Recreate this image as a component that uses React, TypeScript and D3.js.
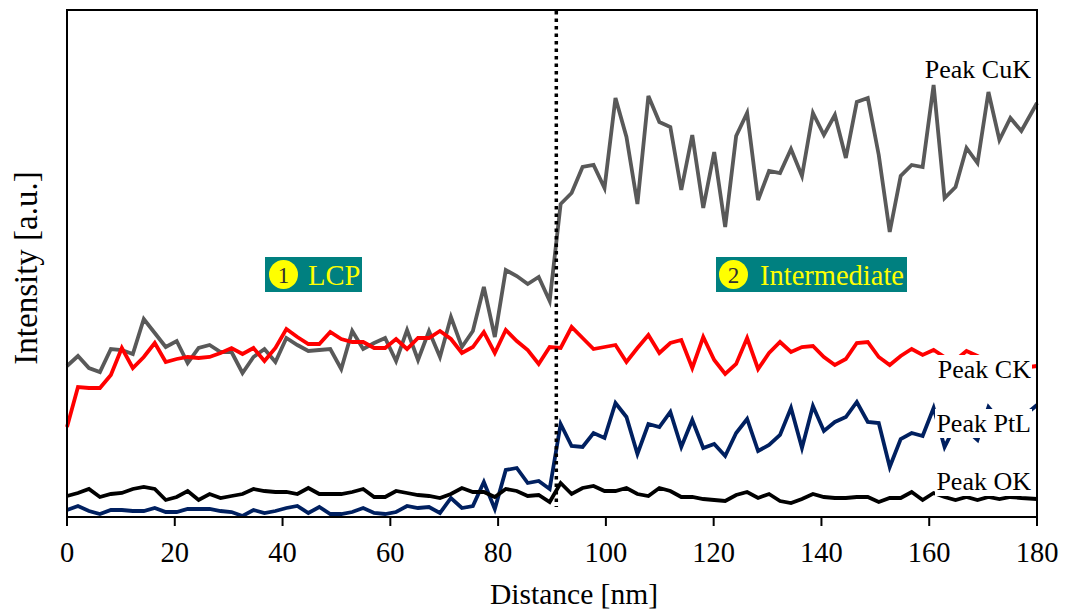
import React from "react";
import * as d3 from "d3";

// Line-scan sampling grid (nm) and the four EDS peak intensity profiles.
const STEP_NM = 2.0356;
const distance: number[] = [...d3.range(88).map((i) => i * STEP_NM), 180];

const peakCuK: number[] = [
  151, 161, 149, 145, 168, 167, 163, 198, 184, 170, 176, 154, 169, 172, 165, 165, 144, 160, 168, 155,
  179, 172, 166, 167, 168, 148, 186, 168, 174, 179, 156, 187, 157, 186, 160, 200, 170, 186, 230, 180,
  247, 241, 233, 240, 216, 313, 324, 350, 352, 329, 419, 380, 313, 421, 395, 390, 327, 382, 309, 365,
  290, 381, 404, 317, 346, 344, 368, 341, 404, 382, 402, 359, 415, 419, 362, 285, 341, 352, 350, 432,
  319, 330, 369, 354, 425, 377, 399, 386, 414,
];

const peakCK: number[] = [
  90, 130, 129, 129, 142, 169, 149, 160, 174, 155, 158, 160, 159, 160, 164, 169, 163, 169, 156, 169,
  188, 180, 173, 173, 185, 178, 175, 175, 169, 169, 178, 168, 179, 179, 186, 178, 164, 170, 185, 164,
  187, 176, 167, 153, 170, 169, 190, 179, 168, 170, 172, 155, 169, 182, 164, 174, 177, 149, 180, 157,
  143, 153, 179, 148, 164, 175, 165, 170, 171, 160, 152, 158, 174, 175, 160, 152, 161, 168, 162, 167,
  160, 157, 166, 161, 155, 159, 152, 149, 151,
];

const peakPtL: number[] = [
  7, 11, 6, 3, 7, 7, 6, 6, 9, 5, 5, 8, 8, 8, 6, 5, 1, 7, 4, 6,
  9, 11, 4, 10, 3, 3, 5, 9, 4, 3, 5, 11, 9, 10, 4, 19, 9, 11, 35, 8,
  47, 49, 34, 36, 28, 93, 71, 70, 84, 79, 114, 100, 63, 93, 90, 105, 70, 97, 69, 73,
  61, 84, 98, 66, 72, 82, 109, 69, 111, 86, 95, 100, 115, 95, 94, 50, 78, 84, 81, 109,
  70, 92, 87, 77, 110, 97, 89, 99, 112,
];

const peakOK: number[] = [
  21, 24, 28, 20, 23, 24, 28, 30, 28, 17, 20, 26, 17, 23, 19, 21, 23, 28, 26, 25,
  25, 23, 29, 23, 23, 23, 25, 28, 20, 20, 26, 24, 22, 21, 19, 23, 29, 25, 25, 20,
  28, 26, 21, 22, 15, 34, 23, 29, 31, 26, 26, 29, 23, 21, 29, 26, 20, 20, 18, 17,
  16, 22, 25, 19, 23, 16, 14, 18, 23, 20, 19, 19, 20, 20, 15, 19, 19, 25, 17, 24,
  20, 17, 20, 17, 20, 18, 20, 19, 18,
];

const xTicks: number[] = [0, 20, 40, 60, 80, 100, 120, 140, 160, 180];
const boundaryNm = 90.8;

type Series = { name: string; values: number[]; color: string; labelY: number; boxed: boolean };

const series: Series[] = [
  { name: "Peak CuK", values: peakCuK, color: "#595959", labelY: 78, boxed: false },
  { name: "Peak CK", values: peakCK, color: "#ff0000", labelY: 378, boxed: true },
  { name: "Peak PtL", values: peakPtL, color: "#002060", labelY: 432, boxed: true },
  { name: "Peak OK", values: peakOK, color: "#000000", labelY: 490, boxed: true },
];

const W = 1065;
const H = 613;
const left = 67;
const right = 1037;
const top = 10;
const bottom = 517;
const FONT = "'Liberation Serif', 'Times New Roman', serif";

export default function App() {
  const x = d3.scaleLinear().domain([0, 180]).range([left, right]);
  const y = d3.scaleLinear().domain([0, 507]).range([bottom, top]);

  const line = (vals: number[]) =>
    d3
      .line<number>()
      .x((_, i) => x(distance[i]))
      .y((v) => y(v))(vals) || "";

  const regions = [
    { num: "1", text: "LCP", x0: 265, x1: 362, cx: 283.5, tx: 308 },
    { num: "2", text: "Intermediate", x0: 716, x1: 907, cx: 733.5, tx: 760 },
  ];

  return (
    <svg
      width={W}
      height={H}
      style={{ position: "absolute", left: 0, top: 0, background: "#fff" }}
      fontFamily={FONT}
    >
      <rect x={0} y={0} width={W} height={H} fill="#fff" />

      {/* data lines */}
      {series.map((s) => (
        <path
          key={s.name}
          d={line(s.values)}
          fill="none"
          stroke={s.color}
          strokeWidth={3.8}
          strokeLinejoin="miter"
        />
      ))}

      {/* boundary between the two regions */}
      <line
        x1={x(boundaryNm)}
        x2={x(boundaryNm)}
        y1={top + 1}
        y2={507}
        stroke="#000"
        strokeWidth={3.5}
        strokeDasharray="3.5 4"
      />

      {/* region tags */}
      {regions.map((r) => (
        <g key={r.num}>
          <rect x={r.x0} y={257} width={r.x1 - r.x0} height={35} fill="#008080" />
          <circle cx={r.cx} cy={274.5} r={14.5} fill="#ffff00" />
          <text x={r.cx} y={282.5} textAnchor="middle" fontSize={23} fill="#303030">
            {r.num}
          </text>
          <text x={r.tx} y={285} fontSize={28.5} fill="#ffff00">
            {r.text}
          </text>
        </g>
      ))}

      {/* series labels */}
      {series.map((s) => (
        <g key={s.name + "-label"}>
          {s.boxed && (
            <rect x={935} y={s.labelY - 23} width={97} height={29} fill="#fff" />
          )}
          <text x={1031} y={s.labelY} textAnchor="end" fontSize={26} fill="#000">
            {s.name}
          </text>
        </g>
      ))}

      {/* frame */}
      <rect
        x={left}
        y={top}
        width={right - left}
        height={bottom - top}
        fill="none"
        stroke="#000"
        strokeWidth={2}
      />

      {/* x axis ticks and labels */}
      {xTicks.map((t) => (
        <g key={t}>
          <line x1={x(t)} x2={x(t)} y1={bottom} y2={bottom + 9} stroke="#000" strokeWidth={2} />
          <text x={x(t)} y={562} textAnchor="middle" fontSize={28.5} fill="#000">
            {t}
          </text>
        </g>
      ))}

      <text x={574} y={604} textAnchor="middle" fontSize={29.5} fill="#000">
        Distance [nm]
      </text>
      <text
        transform={`translate(37, 268) rotate(-90)`}
        textAnchor="middle"
        fontSize={33}
        fill="#000"
      >
        Intensity [a.u.]
      </text>
    </svg>
  );
}
